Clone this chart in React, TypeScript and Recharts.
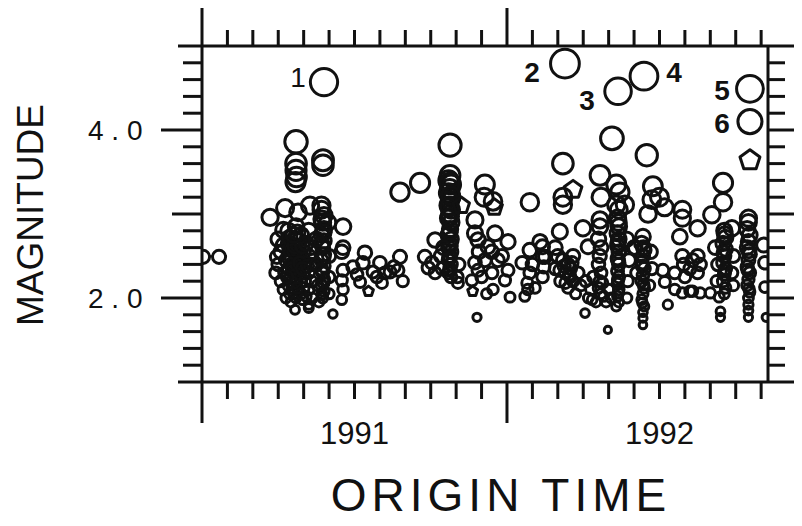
import React from 'react';
import { ScatterChart, Scatter, XAxis, YAxis } from 'recharts';

// x: months since 1 Jan 1991, y: magnitude
type Ev = [number, number];

const jan1991: Ev[] = [[0.04, 2.49], [0.67, 2.49]];

const spring1991: Ev[] = [
  [3.7, 3.86], [3.7, 3.6], [3.7, 3.52], [3.72, 3.44], [3.68, 3.38], [4.76, 3.64], [4.76, 3.58],
  [2.68, 2.96], [3.27, 3.07], [3.78, 3.02], [4.25, 3.1], [4.7, 3.1],
  [2.95, 2.49], [3.2, 2.81], [3.2, 2.63],
  [3.0, 2.7], [3.1, 2.55], [3.0, 2.4], [2.9, 2.3], [3.1, 2.2], [3.2, 2.1], [3.3, 2.0],
  [3.4, 2.8], [3.4, 2.65], [3.5, 2.5], [3.4, 2.35], [3.5, 2.25], [3.4, 2.15], [3.6, 2.05], [3.5, 1.95],
  [3.7, 2.85], [3.7, 2.7], [3.8, 2.6], [3.7, 2.45], [3.8, 2.35], [3.6, 2.3], [3.7, 2.2], [3.8, 2.1], [3.7, 2.0],
  [3.9, 2.75], [4.0, 2.55], [3.9, 2.45], [4.0, 2.3], [3.9, 2.2], [4.0, 2.12], [4.1, 2.02], [3.95, 1.98],
  [4.2, 2.8], [4.3, 2.6], [4.2, 2.5], [4.3, 2.4], [4.2, 2.3], [4.3, 2.2], [4.2, 2.1], [4.35, 2.0], [4.2, 1.92],
  [3.55, 2.62], [3.6, 2.4], [3.85, 2.52], [3.55, 2.12], [4.05, 2.42], [3.3, 2.45], [3.25, 2.3],
  [3.45, 2.58], [3.65, 2.55], [3.75, 2.38], [3.62, 2.18], [3.85, 2.28], [3.5, 2.4], [3.9, 2.05],
  [3.45, 2.72], [3.55, 2.35], [3.65, 2.62], [3.75, 2.78], [3.85, 2.42], [3.95, 2.62], [4.05, 2.2],
  [4.15, 2.38], [3.35, 2.25], [3.45, 2.05], [3.75, 2.12], [3.95, 2.35], [4.1, 2.65], [3.6, 2.75],
  [3.66, 1.86], [4.2, 1.88], [5.15, 1.81],
  [4.7, 3.05], [4.8, 2.98], [4.75, 2.9], [4.8, 2.82], [4.7, 2.75], [4.8, 2.68], [4.75, 2.6], [4.8, 2.52],
  [4.7, 2.45], [4.8, 2.38], [4.75, 2.3], [4.8, 2.22], [4.7, 2.15], [4.8, 2.08], [4.75, 2.0], [4.6, 1.95],
  [4.72, 2.94], [4.78, 2.78], [4.72, 2.64], [4.78, 2.48], [4.72, 2.34], [4.78, 2.18], [4.72, 2.04],
  [4.5, 2.7], [4.5, 2.4], [4.55, 2.15], [5.0, 2.5], [5.0, 2.25], [5.0, 2.05], [4.95, 2.9],
  [5.55, 2.85], [5.55, 2.6], [5.5, 2.55], [5.55, 2.33], [5.5, 2.21], [5.55, 2.1], [5.5, 1.98],
];

const summer1991: Ev[] = [
  [5.94, 2.37], [6.22, 2.19], [6.41, 2.54], [6.33, 2.42], [7.0, 2.42], [6.88, 2.25], [7.08, 2.18],
  [7.4, 2.31], [7.79, 2.49], [7.71, 2.33], [7.55, 2.37], [6.73, 2.31], [7.2, 2.3], [6.1, 2.28], [7.9, 2.2],
  [7.79, 3.26], [8.58, 3.37],
  [8.77, 2.49], [8.9, 2.36], [9.05, 2.42], [9.17, 2.3], [9.17, 2.69],
];

const autumn1991: Ev[] = [
  [9.76, 3.82], [9.76, 3.46],
  [9.7, 3.4], [9.8, 3.35], [9.75, 3.3], [9.7, 3.25], [9.8, 3.2], [9.75, 3.15], [9.7, 3.1], [9.8, 3.05],
  [9.75, 3.0], [9.7, 2.95], [9.8, 2.9], [9.74, 3.37], [9.78, 3.22], [9.73, 3.08], [9.77, 2.97],
  [9.76, 2.82], [9.7, 2.75], [9.8, 2.7], [9.75, 2.65], [9.7, 2.6], [9.8, 2.55], [9.75, 2.5], [9.7, 2.45],
  [9.8, 2.4], [9.75, 2.35], [9.7, 2.3], [9.8, 2.25], [9.74, 2.78], [9.77, 2.62], [9.73, 2.48], [9.77, 2.33],
  [9.4, 2.5], [9.45, 2.35], [10.1, 2.4], [10.05, 2.25], [9.5, 2.6], [10.07, 2.18],
  [11.13, 3.35], [11.1, 3.2], [11.45, 3.15], [12.9, 3.14],
  [10.74, 2.93], [10.74, 2.77], [10.86, 2.69], [11.53, 2.77], [11.25, 2.61], [12.04, 2.67], [11.13, 2.45],
  [10.74, 2.42], [11.64, 2.45], [12.04, 2.33], [11.41, 2.3], [10.86, 2.33], [11.92, 2.21], [10.62, 2.21],
  [11.45, 2.1], [12.12, 2.01], [11.2, 2.05], [10.9, 2.55], [11.4, 2.55], [11.8, 2.5], [11.0, 2.25],
  [10.82, 1.77],
  [12.9, 2.57], [13.3, 2.67], [13.5, 2.49], [12.6, 2.42], [12.9, 2.3], [12.8, 2.18], [13.1, 2.12],
  [13.0, 2.4], [12.82, 2.1], [12.7, 2.02],
];

const early1992: Ev[] = [
  [13.4, 2.61], [13.4, 2.49], [13.45, 2.37], [13.4, 2.25],
  [14.2, 3.6], [14.2, 3.2], [14.2, 3.11], [14.08, 2.79], [14.99, 2.83], [15.66, 2.93], [15.19, 2.61],
  [13.9, 2.6], [14.0, 2.5], [14.2, 2.45], [14.4, 2.4], [14.6, 2.5], [14.3, 2.3], [14.5, 2.35], [14.1, 2.2],
  [14.6, 2.2], [14.8, 2.3], [14.9, 2.15], [14.4, 2.12], [13.9, 2.35], [14.7, 2.05], [14.08, 2.33], [14.48, 2.25],
  [14.25, 2.38], [14.45, 2.28], [14.3, 2.18], [14.55, 2.42],
  [15.07, 1.82],
  [15.66, 2.85], [15.6, 2.7], [15.7, 2.6], [15.65, 2.5], [15.6, 2.4], [15.7, 2.3], [15.65, 2.2], [15.6, 2.12],
  [15.7, 2.05], [15.1, 2.2], [15.3, 2.1], [15.5, 1.95], [15.9, 1.95], [16.1, 2.0], [15.2, 2.0], [16.0, 2.1],
  [15.4, 2.25], [15.8, 2.02], [15.35, 1.98], [15.75, 2.18],
  [16.4, 3.05], [16.35, 2.95], [16.4, 2.85], [16.35, 2.77], [16.4, 2.7], [16.35, 2.62], [16.4, 2.55],
  [16.35, 2.47], [16.4, 2.4], [16.35, 2.32], [16.4, 2.25], [16.35, 2.17], [16.4, 2.1], [16.35, 2.02],
  [16.4, 1.95], [16.3, 1.9], [16.38, 2.9], [16.37, 2.66], [16.38, 2.44], [16.37, 2.21], [16.38, 2.06],
  [15.66, 3.46], [15.7, 3.2], [16.3, 3.35], [16.44, 3.26], [16.3, 3.11], [16.64, 3.11],
  [16.13, 3.9], [15.97, 1.62], [16.72, 2.0],
  [16.7, 2.7], [16.8, 2.45], [16.75, 2.2], [17.0, 2.6],
];

const mid1992: Ev[] = [
  [17.35, 2.73], [17.3, 2.65], [17.4, 2.57], [17.35, 2.5], [17.3, 2.42], [17.4, 2.35], [17.35, 2.27],
  [17.3, 2.2], [17.4, 2.12], [17.35, 2.05], [17.3, 1.98], [17.4, 1.9], [17.35, 1.83], [17.35, 1.76],
  [17.35, 1.68], [17.37, 2.6], [17.33, 2.38], [17.37, 2.16], [17.33, 1.94],
  [17.05, 2.6], [17.1, 2.3], [17.65, 2.55], [17.7, 2.35], [17.6, 2.15],
  [17.5, 3.7], [17.74, 3.33], [17.7, 3.17], [17.55, 3.0], [18.0, 3.2], [18.2, 3.08],
  [18.9, 3.05], [18.9, 2.95], [19.5, 2.83], [18.8, 2.73], [20.06, 2.99],
  [18.13, 2.33], [18.21, 2.19], [18.33, 1.92], [18.6, 2.3],
  [18.9, 2.5], [19.3, 2.45], [19.5, 2.5], [19.6, 2.4], [19.2, 2.35], [19.5, 2.3], [18.95, 2.4], [19.0, 2.25],
  [18.9, 2.06], [19.6, 2.06], [20.0, 2.06], [19.3, 2.08], [18.6, 2.1], [19.2, 2.08],
];

const late1992: Ev[] = [
  [20.5, 3.37], [20.5, 3.14], [20.85, 2.83], [21.5, 2.95],
  [20.55, 2.8], [20.6, 2.72], [20.5, 2.65], [20.6, 2.58], [20.55, 2.5], [20.5, 2.42], [20.6, 2.35],
  [20.55, 2.28], [20.5, 2.2], [20.6, 2.12], [20.55, 2.05], [20.57, 2.76], [20.53, 2.54], [20.57, 2.32],
  [20.2, 2.6], [20.3, 2.4], [20.25, 2.2], [20.9, 2.5], [20.85, 2.3], [20.9, 2.15],
  [20.35, 2.01], [20.4, 1.84], [20.4, 1.77],
  [21.5, 2.9], [21.45, 2.82], [21.55, 2.75], [21.5, 2.67], [21.45, 2.6], [21.55, 2.52], [21.5, 2.45],
  [21.45, 2.37], [21.55, 2.3], [21.5, 2.22], [21.45, 2.15], [21.55, 2.07], [21.5, 2.0], [21.5, 1.92],
  [21.5, 1.85], [21.5, 1.77], [21.52, 2.56], [21.48, 2.33], [21.52, 2.11],
  [22.1, 2.63], [22.15, 2.42], [22.15, 2.13], [22.2, 1.77],
];

// events drawn with a pentagon symbol
const pentagonEvents: Ev[] = [
  [6.55, 2.08], [10.2, 3.1], [11.5, 3.08], [10.65, 2.08], [14.6, 3.29], [21.56, 3.64],
];

// numbered large events: label, month, magnitude
const namedEvents: [string, number, number][] = [
  ['1', 4.8, 4.57], ['2', 14.28, 4.79], ['3', 16.37, 4.46],
  ['4', 17.39, 4.64], ['5', 21.56, 4.49], ['6', 21.56, 4.1],
];

const monthTicks = [0, 1, 2, 3, 4, 5, 6, 7, 8, 9, 10, 11, 12, 13, 14, 15, 16, 17, 18, 19, 20, 21, 22];
const yearLabels: Record<number, string> = { 6: '1991', 18: '1992' };
const magTicks = [1, 1.2, 1.4, 1.6, 1.8, 2, 2.2, 2.4, 2.6, 2.8, 3, 3.2, 3.4, 3.6, 3.8, 4, 4.2, 4.4, 4.6, 4.8, 5];
const magLabels: Record<string, string> = { '2': '2 . 0', '4': '4 . 0' };

const INK = '#111';
const SW = 3;
const FONT = "'Liberation Sans', Arial, sans-serif";

// label placement relative to the symbol
const labelOffset: Record<string, [number, number, number]> = {
  '1': [-26, -5, 400], '2': [-33, 8, 700], '3': [-31, 9, 700],
  '4': [30, -4, 700], '5': [-28, 1, 700], '6': [-28, 1, 700],
};

const toPoints = (list: Ev[]) => list.map(([month, mag]) => ({ month, mag }));
const circleData = toPoints([...jan1991, ...spring1991, ...summer1991, ...autumn1991, ...early1992, ...mid1992, ...late1992]);
const pentagonData = toPoints(pentagonEvents);
const namedData = namedEvents.map(([label, month, mag]) => ({ label, month, mag }));

const radius = (mag: number) => 3.4 * mag - 1.9;
const magOf = (p: any) => (p.payload && p.payload.mag != null ? p.payload.mag : p.mag);

const CircleMark = (p: any) => (
  <circle cx={p.cx} cy={p.cy} r={radius(magOf(p))} fill="none" stroke={INK} strokeWidth={SW} />
);

const PentagonMark = (p: any) => {
  const r = radius(magOf(p));
  const pts = [0, 1, 2, 3, 4]
    .map((k) => {
      const a = (-90 + 72 * k) * (Math.PI / 180);
      return `${p.cx + r * Math.cos(a)},${p.cy + r * Math.sin(a)}`;
    })
    .join(' ');
  return <polygon points={pts} fill="none" stroke={INK} strokeWidth={SW} strokeLinejoin="round" />;
};

const NamedMark = (p: any) => {
  const label = p.payload ? p.payload.label : p.label;
  const [dx, dy, weight] = labelOffset[label];
  return (
    <g>
      <circle cx={p.cx} cy={p.cy} r={radius(magOf(p))} fill="none" stroke={INK} strokeWidth={SW} />
      <text x={p.cx + dx} y={p.cy + dy + 10} textAnchor="middle" fontFamily={FONT} fontSize={28}
        fontWeight={weight} fill={INK}>{label}</text>
    </g>
  );
};

const line = (x1: number, y1: number, x2: number, y2: number) => (
  <line x1={x1} y1={y1} x2={x2} y2={y2} stroke={INK} strokeWidth={SW} />
);

const BottomTick = (p: any) => {
  const m = p.payload.value;
  const len = m % 12 === 0 ? 41 : 17;
  return (
    <g>
      {line(p.x, p.y, p.x, p.y + len)}
      {yearLabels[m] && (
        <text x={p.x} y={p.y + 62} textAnchor="middle" fontFamily={FONT} fontSize={31} fill={INK}>
          {yearLabels[m]}
        </text>
      )}
    </g>
  );
};

const TopTick = (p: any) => {
  const m = p.payload.value;
  const len = m % 12 === 0 ? 41 : 16;
  return <g>{line(p.x, p.y, p.x, p.y - len)}</g>;
};

const LeftTick = (p: any) => {
  const v = Math.round(p.payload.value * 10) / 10;
  const len = v === 2 || v === 4 ? 41 : v === 3 ? 30 : v === 1 || v === 5 ? 24 : 19;
  const lab = magLabels[String(v)];
  return (
    <g>
      {line(p.x - len, p.y, p.x, p.y)}
      {lab && (
        <text x={p.x - 114} y={p.y + 10} fontFamily={FONT} fontSize={28} fill={INK}>{lab}</text>
      )}
    </g>
  );
};

const RightTick = (p: any) => {
  const v = Math.round(p.payload.value * 10) / 10;
  const len = Number.isInteger(v) ? 30 : 17;
  return <g>{line(p.x, p.y, p.x + len, p.y)}</g>;
};

const XTitle = () => (
  <text x={493} y={503} textAnchor="middle" fontFamily={FONT} fontSize={46} letterSpacing={5} fill={INK}>
    ORIGIN TIME
  </text>
);

const YTitle = () => {
  const x = 35;
  const y = 207;
  return (
    <text x={x} y={y} transform={`rotate(-90 ${x} ${y})`} textAnchor="middle" fontFamily={FONT}
      fontSize={37} fill={INK}>MAGNITUDE</text>
  );
};

const axisStyle = { stroke: INK, strokeWidth: SW };

export default function App() {
  return (
    <div style={{ width: 786, height: 518, background: '#fff' }}>
      <ScatterChart width={786} height={518} margin={{ top: 37, right: 25, bottom: 143, left: 193 }}>
        <XAxis xAxisId="bottom" dataKey="month" type="number" domain={[0, 22.27]} ticks={monthTicks}
          orientation="bottom" height={1} tickSize={0} tickMargin={0} tickLine={false} interval={0}
          axisLine={axisStyle} tick={BottomTick} allowDataOverflow label={XTitle} />
        <XAxis xAxisId="top" dataKey="month" type="number" domain={[0, 22.27]} ticks={monthTicks}
          orientation="top" height={1} tickSize={0} tickMargin={0} tickLine={false} interval={0}
          axisLine={axisStyle} tick={TopTick} allowDataOverflow />
        <YAxis yAxisId="left" dataKey="mag" type="number" domain={[1, 5]} ticks={magTicks}
          orientation="left" width={1} tickSize={0} tickMargin={0} tickLine={false} interval={0}
          axisLine={axisStyle} tick={LeftTick} allowDataOverflow label={YTitle} />
        <YAxis yAxisId="right" dataKey="mag" type="number" domain={[1, 5]} ticks={magTicks}
          orientation="right" width={1} tickSize={0} tickMargin={0} tickLine={false} interval={0}
          axisLine={axisStyle} tick={RightTick} allowDataOverflow />
        <Scatter xAxisId="bottom" yAxisId="left" data={circleData} shape={CircleMark} isAnimationActive={false} />
        <Scatter xAxisId="bottom" yAxisId="left" data={pentagonData} shape={PentagonMark} isAnimationActive={false} />
        <Scatter xAxisId="top" yAxisId="right" data={namedData} shape={NamedMark} isAnimationActive={false} />
      </ScatterChart>
    </div>
  );
}
